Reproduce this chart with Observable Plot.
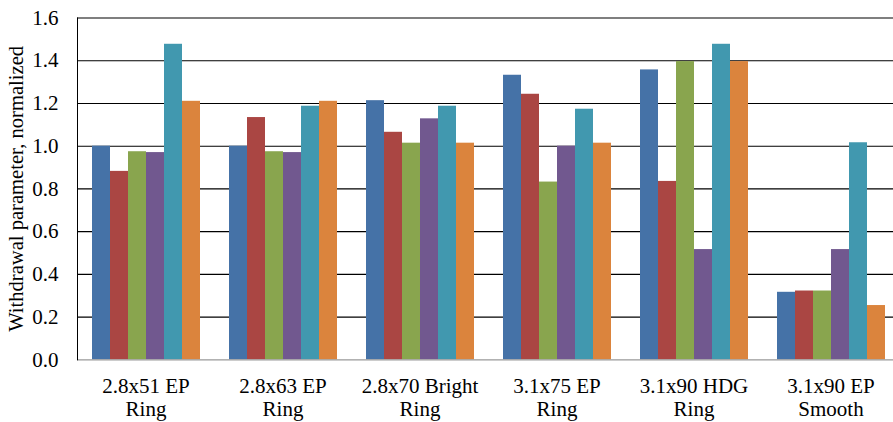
<!DOCTYPE html>
<html><head><meta charset="utf-8">
<script src="https://cdn.jsdelivr.net/npm/d3@7"></script>
<script src="https://cdn.jsdelivr.net/npm/@observablehq/plot@0.6"></script>
<style>
body{margin:0;background:#fff;overflow:hidden}
#chart svg{display:block}
</style>
</head><body><div id="chart"></div>
<script>
const categories = ["2.8x51 EP\nRing", "2.8x63 EP\nRing", "2.8x70 Bright\nRing", "3.1x75 EP\nRing", "3.1x90 HDG\nRing", "3.1x90 EP\nSmooth"];
const seriesNames = ["Series 1", "Series 2", "Series 3", "Series 4", "Series 5", "Series 6"];
const series1 = [1.000, 1.000, 1.213, 1.332, 1.357, 0.316];
const series2 = [0.882, 1.134, 1.065, 1.243, 0.835, 0.322];
const series3 = [0.974, 0.974, 1.014, 0.832, 1.396, 0.322];
const series4 = [0.970, 0.970, 1.128, 1.000, 0.516, 0.516];
const series5 = [1.477, 1.187, 1.187, 1.173, 1.477, 1.016];
const series6 = [1.210, 1.210, 1.014, 1.014, 1.396, 0.254];
const yTicks = [0, 0.2, 0.4, 0.6, 0.8, 1.0, 1.2, 1.4, 1.6];
const colors = ["#4572A7", "#AA4643", "#89A54E", "#71588F", "#4198AF", "#DB843D"];
const yTitle = "Withdrawal parameter, normalized";

const allSeries = [series1, series2, series3, series4, series5, series6];
const data = [];
categories.forEach((c, i) => allSeries.forEach((s, j) => data.push({category: c, series: seriesNames[j], value: s[i]})));

const font = "'Liberation Serif', 'Times New Roman', serif";
const chart = Plot.plot({
  width: 893,
  height: 422,
  marginLeft: 77,
  marginRight: 0,
  marginTop: 17.5,
  marginBottom: 62.7,
  style: {fontFamily: font, color: "#000", background: "#fff", overflow: "hidden"},
  fx: {domain: categories, range: [77.3, 899.5], padding: 0, label: null, axis: null},
  x: {domain: seriesNames, paddingInner: 0, paddingOuter: 0.77, axis: null},
  y: {domain: [0, 1.6], axis: null},
  color: {domain: seriesNames, range: colors},
  marks: [
    Plot.ruleY(yTicks.filter(d => d > 0), {stroke: "#000", strokeWidth: 1.1, strokeOpacity: 1}),
    Plot.barY(data, {fx: "category", x: "series", y: "value", fill: "series"}),
    Plot.ruleY([0], {stroke: "#999", strokeWidth: 1.2}),
    Plot.frame({anchor: "left", stroke: "#000", facet: "super"}),
    Plot.axisY({ticks: yTicks, tickSize: 0, tickPadding: 19, tickFormat: d3.format(".1f"), fontSize: 21, label: null}),
    Plot.axisFx({anchor: "bottom", tickSize: 0, tickPadding: 16, fontSize: 21, lineHeight: 1.12, label: null}),
    Plot.text([yTitle], {frameAnchor: "left", textAnchor: "middle", rotate: -90, dx: -61, fontSize: 20.6, facet: "super", fill: "#000"})
  ]
});
document.getElementById("chart").appendChild(chart);
</script>
</body></html>
